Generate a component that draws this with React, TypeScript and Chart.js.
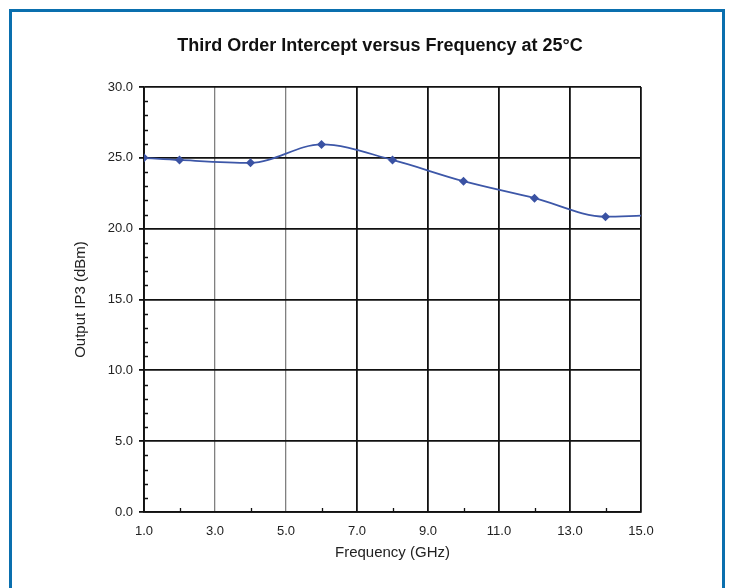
import React, { useEffect, useRef } from "react";
import { Chart, registerables } from "chart.js";

Chart.register(...registerables);

const TITLE = "Third Order Intercept versus Frequency at 25°C";
const X_TITLE = "Frequency (GHz)";
const Y_TITLE = "Output IP3 (dBm)";
const FREQ = [1, 2, 4, 6, 8, 10, 12, 14, 15];
const IP3 = [25.0, 24.85, 24.65, 25.95, 24.85, 23.35, 22.15, 20.85, 20.92];
const MARKER = [1, 1, 1, 1, 1, 1, 1, 1, 0];
const X_TICKS = [1, 3, 5, 7, 9, 11, 13, 15];
const Y_TICKS = [0, 5, 10, 15, 20, 25, 30];
const X_MINOR = [2, 4, 6, 8, 10, 12, 14];
const Y_MINOR = [1, 2, 3, 4, 6, 7, 8, 9, 11, 12, 13, 14, 16, 17, 18, 19, 21, 22, 23, 24, 26, 27, 28, 29];
const LIGHT_X = [3, 5];

const FONT = "'Liberation Sans', Arial, Helvetica, sans-serif";

const extras = {
  id: "extras",
  afterDraw(chart: any) {
    const ctx = chart.ctx;
    const xs = chart.scales.x;
    const ys = chart.scales.y;
    const area = chart.chartArea;
    ctx.save();
    ctx.strokeStyle = "#111";
    ctx.lineWidth = 1.3;
    ctx.beginPath();
    for (const v of Y_MINOR) {
      const py = Math.round(ys.getPixelForValue(v)) + 0.5;
      ctx.moveTo(area.left, py);
      ctx.lineTo(area.left + 4, py);
    }
    for (const v of X_MINOR) {
      const px = Math.round(xs.getPixelForValue(v)) + 0.5;
      ctx.moveTo(px, area.bottom);
      ctx.lineTo(px, area.bottom - 4);
    }
    ctx.stroke();
    ctx.fillStyle = "#111";
    ctx.font = `bold 18px ${FONT}`;
    ctx.textAlign = "center";
    ctx.textBaseline = "middle";
    ctx.fillText(TITLE, 380, 46);
    ctx.restore();
  },
};

export default function App() {
  const ref = useRef<HTMLCanvasElement>(null);
  useEffect(() => {
    if (!ref.current) return;
    const chart = new Chart(ref.current, {
      type: "line",
      data: {
        datasets: [
          {
            data: FREQ.map((f, i) => ({ x: f, y: IP3[i] })),
            borderColor: "#3d57a8",
            backgroundColor: "#3a52a3",
            borderWidth: 1.8,
            pointStyle: "rectRot",
            pointRadius: MARKER.map((m) => m * 4.5),
            pointBorderWidth: 0,
            cubicInterpolationMode: "monotone",
            fill: false,
          },
        ],
      },
      plugins: [extras],
      options: {
        animation: false,
        responsive: false,
        layout: { padding: { left: 0, right: 89, top: 87, bottom: 0 } },
        plugins: { legend: { display: false }, tooltip: { enabled: false }, title: { display: false } },
        scales: {
          x: {
            type: "linear",
            min: 1,
            max: 15,
            afterBuildTicks: (s: any) => {
              s.ticks = X_TICKS.map((v) => ({ value: v }));
            },
            afterFit: (s: any) => {
              s.height = 76;
            },
            ticks: {
              padding: 12,
              color: "#222",
              font: { family: FONT, size: 13 },
              callback: (v: any) => Number(v).toFixed(1),
              maxRotation: 0,
            },
            grid: {
              drawTicks: false,
              color: (c: any) => (LIGHT_X.includes(c.tick?.value) ? "#808080" : "#111"),
              lineWidth: (c: any) => (LIGHT_X.includes(c.tick?.value) ? 1.3 : 1.8),
            },
            border: { color: "#111", width: 1.8 },
            title: {
              display: true,
              text: X_TITLE,
              color: "#222",
              font: { family: FONT, size: 15 },
              padding: { top: 0, bottom: 26 },
            },
          },
          y: {
            type: "linear",
            min: 0,
            max: 30,
            afterBuildTicks: (s: any) => {
              s.ticks = Y_TICKS.map((v) => ({ value: v }));
            },
            afterFit: (s: any) => {
              s.width = 144;
            },
            ticks: {
              padding: 6,
              color: "#222",
              font: { family: FONT, size: 13 },
              callback: (v: any) => Number(v).toFixed(1),
            },
            grid: {
              drawTicks: true,
              tickLength: 5,
              tickColor: "#111",
              color: "#111",
              lineWidth: 1.8,
            },
            border: { color: "#111", width: 1.8 },
            title: {
              display: true,
              text: Y_TITLE,
              color: "#222",
              font: { family: FONT, size: 15 },
              padding: { top: 72, bottom: 0 },
            },
          },
        },
      },
    } as any);
    return () => chart.destroy();
  }, []);

  return (
    <div style={{ position: "fixed", left: 0, top: 0, width: 730, height: 588, background: "#fff", overflow: "hidden" }}>
      <div
        style={{
          position: "absolute",
          left: 9,
          top: 9,
          width: 710,
          height: 620,
          border: "3px solid #0a6fae",
        }}
      />
      <canvas ref={ref} width={730} height={588} style={{ position: "absolute", left: 0, top: 0 }} />
    </div>
  );
}
